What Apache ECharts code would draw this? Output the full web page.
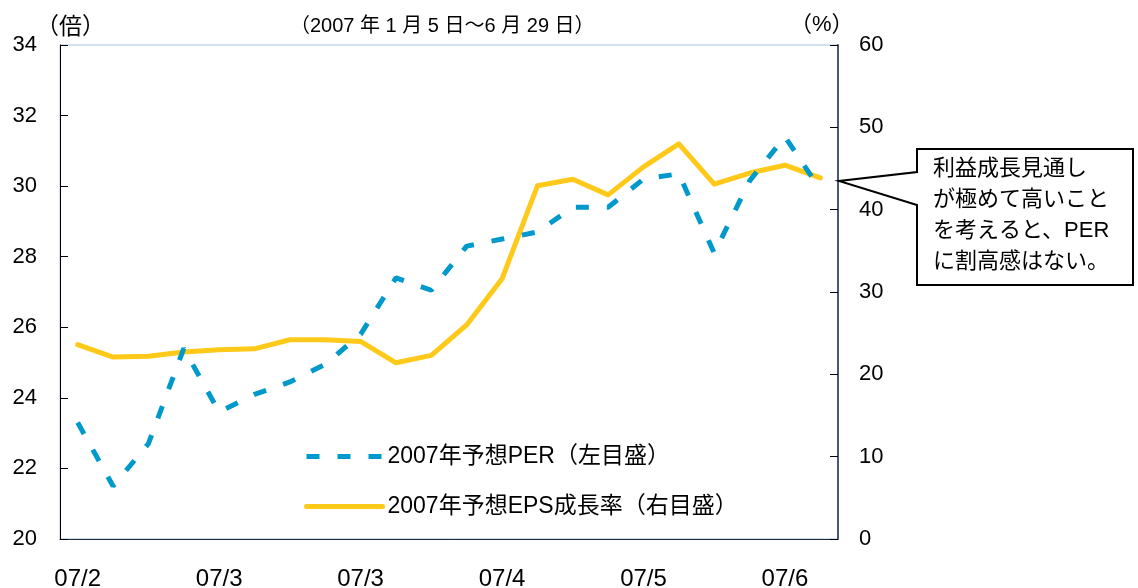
<!DOCTYPE html>
<html>
<head>
<meta charset="utf-8">
<script src="https://cdn.jsdelivr.net/npm/echarts@6/dist/echarts.min.js"></script>
<style>
html, body { margin: 0; padding: 0; background: #fff; }
#main { width: 1138px; height: 588px; }
</style>
</head>
<body>
<div id="main"></div>
<script>
var FONT = "'Liberation Sans', 'Noto Sans CJK JP', sans-serif";

// x軸カテゴリ（4本おきに表示）
var categories = [
    '07/2', '07/2', '07/2', '07/2',
    '07/3', '07/3', '07/3', '07/3',
    '07/3', '07/3', '07/3', '07/3',
    '07/4', '07/4', '07/4', '07/4',
    '07/5', '07/5', '07/5', '07/5',
    '07/6', '07/6'
];

// 2007年予想PER（倍、左目盛）
var perValues = [23.3, 21.5, 22.7, 25.4, 23.6, 24.1, 24.45, 24.95, 25.8, 27.4, 27.05,
                 28.3, 28.5, 28.7, 29.4, 29.4, 30.2, 30.35, 28.1, 30.15, 31.4, 29.9];

// 2007年予想EPS成長率（%、右目盛）
var epsValues = [23.6, 22.1, 22.2, 22.7, 23.0, 23.1, 24.2, 24.2, 24.0, 21.4, 22.3,
                 26.0, 31.6, 42.9, 43.7, 41.8, 45.2, 48.0, 43.1, 44.45, 45.4, 43.85];

var seriesNames = ['2007年予想PER（左目盛）', '2007年予想EPS成長率（右目盛）'];

var PER_COLOR = '#0099cc';
var EPS_COLOR = '#ffc91a';
var PER_DASH = [13, 18];

var option = {
    animation: false,
    textStyle: { fontFamily: FONT },
    grid: {
        left: 60,
        right: 300,
        top: 45,
        bottom: 49,
        containLabel: false,
        outerBoundsMode: 'none',
        show: true,
        borderColor: '#a9c1e2',
        borderWidth: 1
    },
    legend: {
        data: [
            { name: seriesNames[0], lineStyle: { width: 5, type: PER_DASH, cap: 'butt', color: PER_COLOR } },
            { name: seriesNames[1], lineStyle: { width: 5, type: 'solid', cap: 'round', color: EPS_COLOR } }
        ],
        orient: 'vertical',
        left: 299,
        top: 440,
        itemWidth: 76,
        itemHeight: 22,
        itemGap: 27,
        itemStyle: { opacity: 0 },
        textStyle: { fontSize: 23, color: '#000', fontFamily: FONT, lineHeight: 22 }
    },
    xAxis: {
        type: 'category',
        data: categories,
        boundaryGap: true,
        axisLine: { lineStyle: { color: '#1f2b3a', width: 1 } },
        axisTick: { inside: true, length: 9, interval: 3, lineStyle: { color: '#000' } },
        axisLabel: { interval: 3, fontSize: 24, color: '#000', margin: 28 },
        splitLine: { show: false }
    },
    yAxis: [
        {
            type: 'value',
            min: 20,
            max: 34,
            interval: 2,
            position: 'left',
            axisLine: { show: true, lineStyle: { color: '#000', width: 1 } },
            axisTick: { show: true, inside: true, length: 8, lineStyle: { color: '#000' } },
            axisLabel: { fontSize: 22, color: '#000', margin: 23 },
            splitLine: { show: false }
        },
        {
            type: 'value',
            min: 0,
            max: 60,
            interval: 10,
            position: 'right',
            axisLine: { show: true, lineStyle: { color: '#4a5870', width: 2 } },
            axisTick: { show: true, inside: true, length: 8, lineStyle: { color: '#000' } },
            axisLabel: { fontSize: 22, color: '#000', margin: 21 },
            splitLine: { show: false }
        }
    ],
    series: [
        {
            name: seriesNames[0],
            type: 'line',
            yAxisIndex: 0,
            data: perValues,
            symbol: 'none',
            z: 3,
            lineStyle: { color: PER_COLOR, width: 5, type: PER_DASH, cap: 'butt' },
            itemStyle: { color: PER_COLOR }
        },
        {
            name: seriesNames[1],
            type: 'line',
            yAxisIndex: 1,
            data: epsValues,
            symbol: 'none',
            z: 2,
            lineStyle: { color: EPS_COLOR, width: 5, cap: 'round', join: 'round' },
            itemStyle: { color: EPS_COLOR }
        }
    ],
    graphic: [
        {
            type: 'text', left: 290, top: 16,
            style: { text: '（2007 年 1 月 5 日～6 月 29 日）', font: '20px ' + FONT, fill: '#000' }
        },
        {
            type: 'text', left: 36, top: 16,
            style: { text: '（倍）', font: '23px ' + FONT, fill: '#000' }
        },
        {
            type: 'text', left: 790, top: 14,
            style: { text: '（%）', font: '22px ' + FONT, fill: '#000' }
        },
        {
            type: 'polygon', z: 100,
            shape: { points: [[917, 149], [1133, 149], [1133, 285], [917, 285], [917, 205], [839, 181], [917, 172]] },
            style: { fill: '#fff', stroke: '#000', lineWidth: 2 }
        },
        {
            type: 'text', z: 101, left: 933, top: 153,
            style: {
                text: '利益成長見通し\nが極めて高いこと\nを考えると、PER\nに割高感はない。',
                font: '22px ' + FONT, lineHeight: 31, fill: '#000'
            }
        }
    ]
};

function Echart_build(chartOption, dom) {
    var chart = echarts.init(dom);
    if (chartOption && typeof chartOption === "object") {
        chart.setOption(chartOption, true);
    }
    return chart;
}

Echart_build(option, document.getElementById('main'));
</script>
</body>
</html>
